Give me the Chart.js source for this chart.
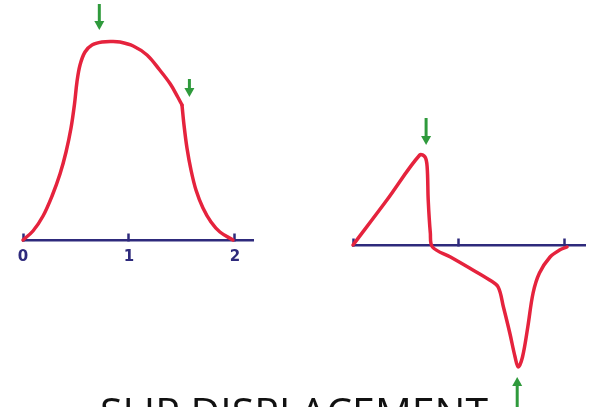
<!DOCTYPE html>
<html>
<head>
<meta charset="utf-8">
<script src="https://cdn.jsdelivr.net/npm/chart.js@4.4.1/dist/chart.umd.min.js"></script>
<style>
  body { margin: 0; width: 596px; height: 407px; overflow: hidden; background: #fff; position: relative; }
  canvas { position: absolute; left: 0; top: 0; }
  #titulo { position: absolute; left: 0; width: 588px; top: 391px; text-align: center;
            font-family: "Open Sans", sans-serif; font-size: 41px; line-height: 1; color: #111; white-space: nowrap; }
</style>
</head>
<body>
<canvas id="graficoIzq" width="596" height="407"></canvas>
<canvas id="graficoDer" width="596" height="407"></canvas>
<div id="titulo">SLIP DISPLACEMENT</div>
<script>
// curva izquierda, tramo 1 (subida y cima, hasta el quiebre)
const izqX1 = [0, 0.094, 0.189, 0.274, 0.349, 0.406, 0.453, 0.486, 0.509, 0.538, 0.585, 0.651, 0.745, 0.840, 0.915, 1.04, 1.17, 1.29, 1.39, 1.46, 1.50];
const izqY1 = [0, 0.09, 0.24, 0.44, 0.66, 0.88, 1.12, 1.36, 1.58, 1.75, 1.88, 1.95, 1.98, 1.985, 1.98, 1.94, 1.85, 1.70, 1.56, 1.43, 1.35];
// curva izquierda, tramo 2 (bajada despues del quiebre)
const izqX2 = [1.50, 1.519, 1.547, 1.585, 1.632, 1.698, 1.774, 1.858, 1.981];
const izqY2 = [1.35, 1.15, 0.92, 0.70, 0.50, 0.32, 0.18, 0.08, 0];

// curva derecha
const derX = [0, 0.32, 0.63, 0.68, 0.70, 0.71, 0.73, 0.75, 0.92, 1.10, 1.29, 1.37, 1.42, 1.48, 1.53, 1.56, 1.60, 1.65, 1.70, 1.76, 1.86, 1.95, 2.02];
const derY = [0, 0.45, 0.90, 0.88, 0.78, 0.45, 0.12, -0.02, -0.12, -0.23, -0.35, -0.42, -0.62, -0.88, -1.12, -1.22, -1.12, -0.82, -0.48, -0.28, -0.12, -0.05, -0.02];

// ticks del eje y sus etiquetas
const valoresTicks = [0, 1, 2];
const etiquetasIzq = ["0", "1", "2"];

// flechas verdes: posicion x, valor de la cola y de la punta
const flechasIzqX = [0.72, 1.57];
const flechasIzqDesde = [2.36, 1.61];
const flechasIzqHasta = [2.10, 1.43];
const flechasDerX = [0.69, 1.55];
const flechasDerDesde = [1.27, -1.64];
const flechasDerHasta = [1.00, -1.32];

const ROJO = "#e5233d";
const AZUL = "#2e2a7c";
const VERDE = "#2f9a3c";

addEventListener("DOMContentLoaded", function(){
    generarGrafico("graficoIzq", [[izqX1, izqY1], [izqX2, izqY2]], etiquetasIzq,
        flechasIzqX, flechasIzqDesde, flechasIzqHasta, {left: 23, right: 343}, 2.17, 2.40, -1.67);
    generarGrafico("graficoDer", [[derX, derY]], null,
        flechasDerX, flechasDerDesde, flechasDerHasta, {left: 353, right: 11}, 2.19, 2.45, -1.62);
});

function crearFlechas(xs, desde, hasta) {
    return {
        id: "flechas",
        afterDatasetsDraw(chart) {
            const ctx = chart.ctx;
            const sx = chart.scales.x, sy = chart.scales.y;
            ctx.save();
            ctx.strokeStyle = VERDE;
            ctx.fillStyle = VERDE;
            ctx.lineWidth = 3;
            for (let i = 0; i < xs.length; i++) {
                const x = sx.getPixelForValue(xs[i]);
                const y0 = sy.getPixelForValue(desde[i]);
                const y1 = sy.getPixelForValue(hasta[i]);
                const dir = y1 > y0 ? 1 : -1;
                ctx.beginPath();
                ctx.moveTo(x, y0);
                ctx.lineTo(x, y1 - dir * 6);
                ctx.stroke();
                ctx.beginPath();
                ctx.moveTo(x - 5, y1 - dir * 9);
                ctx.lineTo(x + 5, y1 - dir * 9);
                ctx.lineTo(x, y1);
                ctx.closePath();
                ctx.fill();
            }
            ctx.restore();
        }
    };
}

function generarGrafico(id, series, etiquetas, fx, fDesde, fHasta, margen, xMax, yMax, yMin) {

    let datasets = [];
    for (let [ejeX, ejeY] of series) {
        let puntos = [];
        for (let i = 0; i < ejeX.length; i++) {
            puntos = [...puntos, {x: ejeX[i], y: ejeY[i]}];
        }
        datasets = [...datasets, {
            data: puntos,
            borderColor: ROJO,
            borderWidth: 3.5,
            borderCapStyle: "round",
            borderJoinStyle: "round",
            pointRadius: 0,
            fill: false,
            tension: 0.35,
            clip: false
        }];
    }

    new Chart(id, {
        type: "line",
        data: { datasets: datasets },
        options: {
            responsive: false,
            animation: false,
            devicePixelRatio: 1,
            layout: { padding: {left: margen.left, right: margen.right, top: 0, bottom: 0} },
            plugins: { legend: {display: false}, tooltip: {enabled: false} },
            scales: {
                x: {
                    type: "linear",
                    position: {y: 0},
                    min: 0,
                    max: xMax,
                    afterBuildTicks: function(escala) {
                        escala.ticks = valoresTicks.map(v => ({value: v}));
                    },
                    ticks: {
                        display: etiquetas != null,
                        color: AZUL,
                        padding: 16,
                        maxRotation: 0,
                        autoSkip: false,
                        font: {family: "DejaVu Sans", size: 15, weight: "bold"},
                        callback: function(v) { return etiquetas ? etiquetas[valoresTicks.indexOf(v)] : ""; }
                    },
                    grid: {
                        drawOnChartArea: false,
                        tickColor: AZUL,
                        tickWidth: 2.5,
                        tickLength: -8
                    },
                    border: {color: AZUL, width: 2.5}
                },
                y: {
                    type: "linear",
                    display: false,
                    min: yMin,
                    max: yMax
                }
            }
        },
        plugins: [crearFlechas(fx, fDesde, fHasta)]
    });
}
</script>
</body>
</html>
